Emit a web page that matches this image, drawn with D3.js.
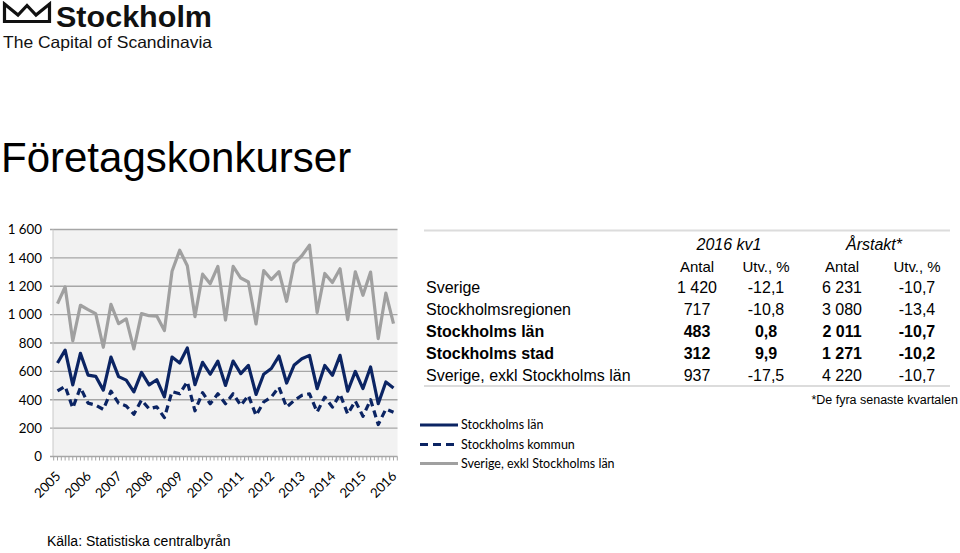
<!DOCTYPE html>
<html><head><meta charset="utf-8">
<script src="https://cdn.jsdelivr.net/npm/d3@7"></script>
<style>body{margin:0;background:#fff}svg{display:block}</style>
</head><body>
<svg id="c" width="960" height="553"></svg>
<script>
// ---------- data ----------
const years = ["2005","2006","2007","2008","2009","2010","2011","2012","2013","2014","2015","2016"];
const quarterNames = ["kv1","kv2","kv3","kv4"];
const categories = [];
years.forEach(y => quarterNames.forEach(q => { if (!(y === "2016" && q !== "kv1")) categories.push(y + " " + q); }));

const stockholmsLan = [659,750,505,727,574,565,468,701,563,538,456,593,505,541,420,701,659,765,506,664,580,672,501,673,584,642,438,580,620,708,518,645,689,713,478,642,572,713,460,600,479,631,372,525,483];
const stockholmsKommun = [462,495,342,486,376,362,332,460,376,356,298,398,336,350,274,458,442,527,322,450,372,442,372,442,360,431,289,384,419,489,348,395,431,442,313,419,348,440,300,391,284,400,225,334,312];
const sverigeExkl = [1078,1195,815,1066,1035,1007,770,1073,936,970,758,1007,992,990,888,1306,1454,1345,986,1285,1218,1340,962,1340,1258,1230,934,1310,1247,1303,1094,1362,1415,1490,1015,1290,1226,1323,965,1302,1136,1300,831,1152,937];

const yTicks = [0,200,400,600,800,1000,1200,1400,1600];
const yTickLabels = ["0","200","400","600","800","1 000","1 200","1 400","1 600"];

const seriesNames = ["Stockholms län","Stockholms kommun","Sverige, exkl Stockholms län"];

const tableRows = ["Sverige","Stockholmsregionen","Stockholms län","Stockholms stad","Sverige, exkl Stockholms län"];
const boldRows = [false,false,true,true,false];
const kvAntal = ["1 420","717","483","312","937"];
const kvUtv = ["-12,1","-10,8","0,8","9,9","-17,5"];
const arAntal = ["6 231","3 080","2 011","1 271","4 220"];
const arUtv = ["-10,7","-13,4","-10,7","-10,2","-10,7"];
const groupHeaders = ["2016 kv1","Årstakt*"];
const colHeaders = ["Antal","Utv., %","Antal","Utv., %"];

// ---------- drawing ----------
const svg = d3.select("#c");
const NAVY = "#0b2463", GRAY = "#a0a0a0";
const chartFont = "Lato, 'Open Sans', sans-serif";
const tableFont = "'Liberation Sans', Arial, sans-serif";

// logo
svg.append("path")
  .attr("d","M4.5,4 L18,15 L27,5.5 L36,15 L49.5,4 L49.5,21.5 L4.5,21.5 Z")
  .attr("fill","none").attr("stroke","#111").attr("stroke-width",3.2).attr("stroke-linejoin","miter");
svg.append("text").attr("x",56).attr("y",26.5).text("Stockholm")
  .attr("font-family",tableFont).attr("font-weight",700).attr("font-size",29)
  .attr("textLength",156).attr("lengthAdjust","spacingAndGlyphs").attr("fill","#111");
svg.append("text").attr("x",3).attr("y",48).text("The Capital of Scandinavia")
  .attr("font-family",tableFont).attr("font-size",16.5)
  .attr("textLength",209).attr("lengthAdjust","spacingAndGlyphs").attr("fill","#111");

// title
svg.append("text").attr("x",1).attr("y",172).text("Företagskonkurser")
  .attr("font-family",tableFont).attr("font-size",42).attr("fill","#000");

// scales
const plotL = 53, plotR = 397.5, plotT = 229.5, plotB = 456.5;
const x = d3.scalePoint().domain(categories).range([57.5, 393.5]);
const y = d3.scaleLinear().domain([0,1600]).range([plotB, plotT]);

// plot background
svg.append("rect").attr("x",plotL).attr("y",plotT).attr("width",plotR-plotL).attr("height",plotB-plotT).attr("fill","#f2f2f2");

// gridlines
const gridG = svg.append("g");
gridG.selectAll("line").data(yTicks.filter(d => d > 0)).join("line")
  .attr("x1",plotL-3).attr("x2",plotR).attr("y1",d=>y(d)).attr("y2",d=>y(d))
  .attr("stroke","#a6a6a6").attr("stroke-width",1.4);

// y axis line
svg.append("line").attr("x1",plotL).attr("x2",plotL).attr("y1",plotT).attr("y2",plotB)
  .attr("stroke","#c8c8c8").attr("stroke-width",1);

// y axis labels via d3 axis
const yAxis = d3.axisLeft(y).tickValues(yTicks).tickSize(0).tickPadding(0)
  .tickFormat((d,i) => yTickLabels[i]);
const yg = svg.append("g").attr("transform",`translate(42,0)`).call(yAxis);
yg.select(".domain").remove();
yg.selectAll("text").attr("font-family",chartFont).attr("font-size",13.3).attr("fill","#000");

// x axis line + ticks
const step = x.step();
svg.append("line").attr("x1",plotL-3).attr("x2",plotR).attr("y1",plotB).attr("y2",plotB)
  .attr("stroke","#a6a6a6").attr("stroke-width",1.4);
const tickPos = [];
categories.forEach(c => { tickPos.push(x(c) - step/2); tickPos.push(x(c)); });
tickPos.push(x(categories[categories.length-1]) + step/2);
svg.append("g").selectAll("line").data(tickPos).join("line")
  .attr("x1",d=>d).attr("x2",d=>d).attr("y1",plotB).attr("y2",plotB+4)
  .attr("stroke","#a6a6a6").attr("stroke-width",1);

// year labels
svg.append("g").selectAll("text").data(years).join("text")
  .attr("transform", d => `translate(${x(d + " kv1") + 4},477) rotate(-45)`)
  .attr("text-anchor","end").text(d=>d)
  .attr("font-family",chartFont).attr("font-size",13.3).attr("fill","#000");

// lines
const line = d3.line().x((d,i)=>x(categories[i])).y(d=>y(d));
svg.append("path").datum(sverigeExkl).attr("d",line).attr("fill","none")
  .attr("stroke",GRAY).attr("stroke-width",3.2).attr("stroke-linejoin","round");
svg.append("path").datum(stockholmsKommun).attr("d",line).attr("fill","none")
  .attr("stroke",NAVY).attr("stroke-width",3.2).attr("stroke-dasharray","7,4.5").attr("stroke-linejoin","round");
svg.append("path").datum(stockholmsLan).attr("d",line).attr("fill","none")
  .attr("stroke",NAVY).attr("stroke-width",3.2).attr("stroke-linejoin","round");

// legend
const legStyles = [{c:NAVY,d:null},{c:NAVY,d:"8,5"},{c:GRAY,d:null}];
const legY = [425,444.5,463.5];
const leg = svg.append("g");
seriesNames.forEach((n,i) => {
  leg.append("line").attr("x1",420).attr("x2",458).attr("y1",legY[i]).attr("y2",legY[i])
    .attr("stroke",legStyles[i].c).attr("stroke-width",3.2).attr("stroke-dasharray",legStyles[i].d);
  leg.append("text").attr("x",461).attr("y",legY[i]+4.3).text(n)
    .attr("font-family",chartFont).attr("font-size",12.5).attr("fill","#000");
});

// table
const tg = svg.append("g").attr("font-family",tableFont).attr("font-size",16).attr("fill","#000");
tg.append("line").attr("x1",424).attr("x2",950).attr("y1",230.5).attr("y2",230.5).attr("stroke","#dcdcdc").attr("stroke-width",2);
tg.append("line").attr("x1",424).attr("x2",950).attr("y1",386).attr("y2",386).attr("stroke","#dcdcdc").attr("stroke-width",2);
const colX = [697,766,842,917];
const grpX = [729,874];
groupHeaders.forEach((h,i) => tg.append("text").attr("x",grpX[i]).attr("y",250).attr("text-anchor","middle")
  .attr("font-style","italic").text(h));
colHeaders.forEach((h,i) => tg.append("text").attr("x",colX[i]).attr("y",272).attr("text-anchor","middle").attr("font-size",15).text(h));
const rowY = [293,315,337,359,381];
tableRows.forEach((r,i) => {
  const w = boldRows[i] ? 700 : 400;
  tg.append("text").attr("x",426).attr("y",rowY[i]).attr("font-weight",w).text(r);
  [kvAntal[i],kvUtv[i],arAntal[i],arUtv[i]].forEach((v,j) =>
    tg.append("text").attr("x",colX[j]).attr("y",rowY[i]).attr("text-anchor","middle").attr("font-weight",w).text(v));
});
tg.append("text").attr("x",958).attr("y",404).attr("text-anchor","end").attr("font-size",12.5).text("*De fyra senaste kvartalen");

// source
svg.append("text").attr("x",47).attr("y",546).text("Källa: Statistiska centralbyrån")
  .attr("font-family",tableFont).attr("font-size",14).attr("fill","#000");
</script>
</body></html>
